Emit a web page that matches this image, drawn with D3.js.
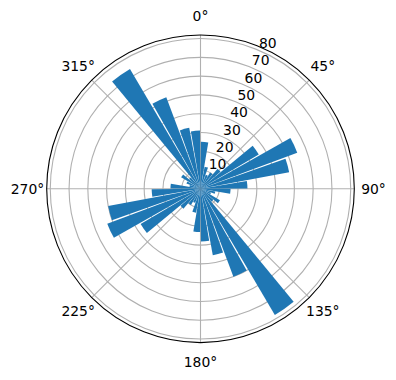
<!DOCTYPE html>
<html><head><meta charset="utf-8">
<script src="https://cdn.jsdelivr.net/npm/d3@7"></script>
<style>body{margin:0;background:#fff}svg{display:block}text{font-family:"DejaVu Sans",sans-serif;font-size:13.9px;fill:#000}</style>
</head><body>
<script>
// bin centers in degrees (clockwise from north)
const directions = [5,15,25,35,45,55,65,75,85,95,105,115,125,135,145,155,165,175,185,195,205,215,225,235,245,255,265,275,285,295,305,315,325,335,345,355];
const counts = [25,12,8,10,14,36,55,48,25,16,8,6,12,9,78,50,36,28,23,13,8,10,14,37,53,50,26,16,6,8,12,8,74,52,33,31];
const rTicks = [10,20,30,40,50,60,70,80];
const thetaTicks = [0,45,90,135,180,225,270,315];
const thetaLabels = ["0°","45°","90°","135°","180°","225°","270°","315°"];

const W = 396, H = 380, cx = 200.5, cy = 188.8, R = 153.8;
const svg = d3.select("body").append("svg").attr("width", W).attr("height", H);
const g = svg.append("g").attr("transform", `translate(${cx},${cy})`);
const rmax = d3.max(counts) * 1.05;
const r = d3.scaleLinear().domain([0, rmax]).range([0, R]);
const rad = d => d * Math.PI / 180;
const binW = 10 * 0.9;

// grid circles
g.selectAll("circle.grid").data(rTicks).join("circle")
  .attr("r", d => r(d)).attr("fill", "none").attr("stroke", "#b0b0b0").attr("stroke-width", 1.1);
// spokes
g.selectAll("line.spoke").data(thetaTicks).join("line")
  .attr("x1", 0).attr("y1", 0)
  .attr("x2", d => R * Math.sin(rad(d))).attr("y2", d => -R * Math.cos(rad(d)))
  .attr("stroke", "#b0b0b0").attr("stroke-width", 1.1);

// bars
const arc = d3.arc().innerRadius(0);
g.selectAll("path.bar").data(directions).join("path")
  .attr("class", "bar")
  .attr("fill", "#1f77b4")
  .attr("d", (d, i) => arc({outerRadius: r(counts[i]), startAngle: rad(d - binW / 2), endAngle: rad(d + binW / 2)}));

// outer circle
g.append("circle").attr("r", R).attr("fill", "none").attr("stroke", "#000").attr("stroke-width", 1.1);

// theta labels
g.selectAll("text.th").data(thetaTicks).join("text")
  .attr("x", d => 173 * Math.sin(rad(d))).attr("y", d => -173 * Math.cos(rad(d)))
  .attr("text-anchor", "middle").attr("dominant-baseline", "central")
  .text((d, i) => thetaLabels[i]);

// r labels
const la = rad(22.5);
g.selectAll("text.rl").data(rTicks).join("text")
  .attr("x", d => r(d) * Math.sin(la) + 1).attr("y", d => -r(d) * Math.cos(la) - 2)
  .attr("text-anchor", "start")
  .text(d => d);
</script>
</body></html>
